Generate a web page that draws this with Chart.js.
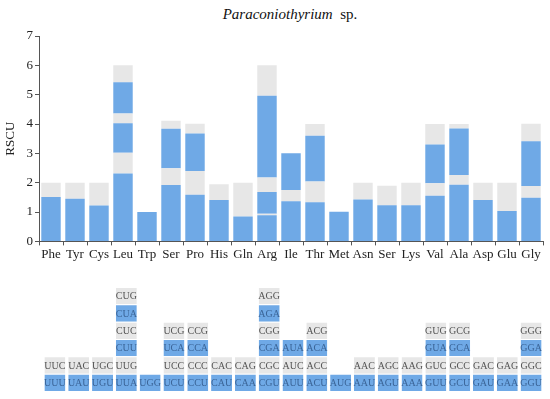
<!DOCTYPE html>
<html>
<head>
<meta charset="utf-8">
<script src="https://cdn.jsdelivr.net/npm/chart.js@4"></script>
<style>
  body { margin: 0; background: #fff; }
  #wrap { position: relative; width: 550px; height: 399px; }
  #title { position: absolute; left: 0; top: 6px; width: 580px; text-align: center;
           font-family: "Liberation Serif", "Times New Roman", serif; font-size: 15px; color: #111; }
  #rscuBox { position: absolute; left: 0; top: 0; width: 550px; height: 263px; }
  #codonBox { position: absolute; left: 0; top: 265px; width: 550px; height: 134px; }
</style>
</head>
<body>
<div id="wrap">
  <div id="title"><i>Paraconiothyrium</i>&nbsp; sp.</div>
  <div id="rscuBox"><canvas id="rscuChart"></canvas></div>
  <div id="codonBox"><canvas id="codonChart"></canvas></div>
</div>
<script>
const aminoAcids = ['Phe', 'Tyr', 'Cys', 'Leu', 'Trp', 'Ser', 'Pro', 'His', 'Gln', 'Arg', 'Ile',
  'Thr', 'Met', 'Asn', 'Ser', 'Lys', 'Val', 'Ala', 'Asp', 'Glu', 'Gly'];

// codons per amino acid, bottom to top
const codons = [
  ['UUU', 'UUC'],
  ['UAU', 'UAC'],
  ['UGU', 'UGC'],
  ['UUA', 'UUG', 'CUU', 'CUC', 'CUA', 'CUG'],
  ['UGG'],
  ['UCU', 'UCC', 'UCA', 'UCG'],
  ['CCU', 'CCC', 'CCA', 'CCG'],
  ['CAU', 'CAC'],
  ['CAA', 'CAG'],
  ['CGU', 'CGC', 'CGA', 'CGG', 'AGA', 'AGG'],
  ['AUU', 'AUC', 'AUA'],
  ['ACU', 'ACC', 'ACA', 'ACG'],
  ['AUG'],
  ['AAU', 'AAC'],
  ['AGU', 'AGC'],
  ['AAA', 'AAG'],
  ['GUU', 'GUC', 'GUA', 'GUG'],
  ['GCU', 'GCC', 'GCA', 'GCG'],
  ['GAU', 'GAC'],
  ['GAA', 'GAG'],
  ['GGU', 'GGC', 'GGA', 'GGG']
];

// RSCU values, same order as codons
const rscu = [
  [1.51, 0.49],
  [1.45, 0.55],
  [1.22, 0.78],
  [2.31, 0.71, 1.01, 0.33, 1.06, 0.58],
  [1.00],
  [1.92, 0.57, 1.35, 0.27],
  [1.59, 0.81, 1.28, 0.33],
  [1.41, 0.54],
  [0.85, 1.15],
  [0.89, 0.05, 0.74, 0.50, 2.78, 1.04],
  [1.37, 0.38, 1.25],
  [1.33, 0.71, 1.56, 0.40],
  [1.01],
  [1.43, 0.57],
  [1.23, 0.67],
  [1.23, 0.77],
  [1.56, 0.42, 1.32, 0.70],
  [1.93, 0.33, 1.59, 0.15],
  [1.41, 0.59],
  [1.04, 0.96],
  [1.49, 0.40, 1.52, 0.60]
];

const yTicks = [0, 1, 2, 3, 4, 5, 6, 7];

const BLUE = '#6fa9e6';
const GRAY = '#e7e7e7';
const FONT = '"Liberation Serif", "Times New Roman", serif';
const AXIS = '#555';
const ROWS = 6;

function rowColor(i) { return i % 2 === 0 ? BLUE : GRAY; }

// top chart: stacked RSCU bars
const rscuSets = [];
for (let i = 0; i < ROWS; i++) {
  rscuSets.push({
    label: 'codon ' + (i + 1),
    data: rscu.map(r => (r[i] !== undefined ? r[i] : null)),
    backgroundColor: rowColor(i),
    borderWidth: 0,
    barPercentage: 0.81,
    categoryPercentage: 1
  });
}

new Chart(document.getElementById('rscuChart'), {
  type: 'bar',
  data: { labels: aminoAcids, datasets: rscuSets },
  options: {
    responsive: true,
    maintainAspectRatio: false,
    animation: false,
    layout: { padding: { top: 36, right: 7, left: 3, bottom: 0 } },
    plugins: { legend: { display: false }, tooltip: { enabled: false } },
    scales: {
      x: {
        stacked: true,
        border: { color: AXIS, width: 1 },
        grid: { drawOnChartArea: false, drawTicks: true, tickLength: 4, color: AXIS },
        ticks: { color: '#222', font: { family: FONT, size: 13 }, padding: 1, maxRotation: 0, autoSkip: false }
      },
      y: {
        stacked: true,
        min: 0,
        max: 7,
        afterBuildTicks: axis => { axis.ticks = yTicks.map(v => ({ value: v })); },
        afterFit: axis => { axis.width = 36; },
        border: { color: AXIS, width: 1 },
        grid: { drawOnChartArea: false, drawTicks: true, tickLength: 4, color: AXIS },
        ticks: { color: '#222', font: { family: FONT, size: 13 }, padding: 2 },
        title: { display: true, text: 'RSCU', color: '#222', font: { family: FONT, size: 13 }, padding: 0 }
      }
    }
  }
});

// bottom chart: codon legend boxes
const codonSets = [];
for (let i = 0; i < ROWS; i++) {
  codonSets.push({
    label: 'row ' + (i + 1),
    data: codons.map(c => (c[i] !== undefined ? 1 : null)),
    backgroundColor: rowColor(i),
    borderColor: '#fff',
    borderWidth: { top: 1, bottom: 0, left: 0, right: 0 },
    borderSkipped: false,
    barPercentage: 0.88,
    categoryPercentage: 1
  });
}

const codonText = {
  id: 'codonText',
  afterDatasetsDraw(chart) {
    const ctx = chart.ctx;
    ctx.save();
    ctx.font = '10px ' + FONT;
    ctx.textAlign = 'center';
    ctx.textBaseline = 'middle';
    chart.data.datasets.forEach((ds, i) => {
      chart.getDatasetMeta(i).data.forEach((bar, j) => {
        const name = codons[j][i];
        if (!name) return;
        const p = bar.getProps(['x', 'y', 'base']);
        ctx.fillStyle = i % 2 === 0 ? '#3b6598' : '#555';
        ctx.fillText(name, p.x, (p.y + p.base) / 2 + 1);
      });
    });
    ctx.restore();
  }
};

new Chart(document.getElementById('codonChart'), {
  type: 'bar',
  data: { labels: aminoAcids, datasets: codonSets },
  options: {
    responsive: true,
    maintainAspectRatio: false,
    animation: false,
    layout: { padding: { top: 22, right: 7, left: 43, bottom: 8 } },
    plugins: { legend: { display: false }, tooltip: { enabled: false } },
    scales: {
      x: { stacked: true, display: false },
      y: { stacked: true, display: false, min: 0, max: ROWS }
    }
  },
  plugins: [codonText]
});
</script>
</body>
</html>
